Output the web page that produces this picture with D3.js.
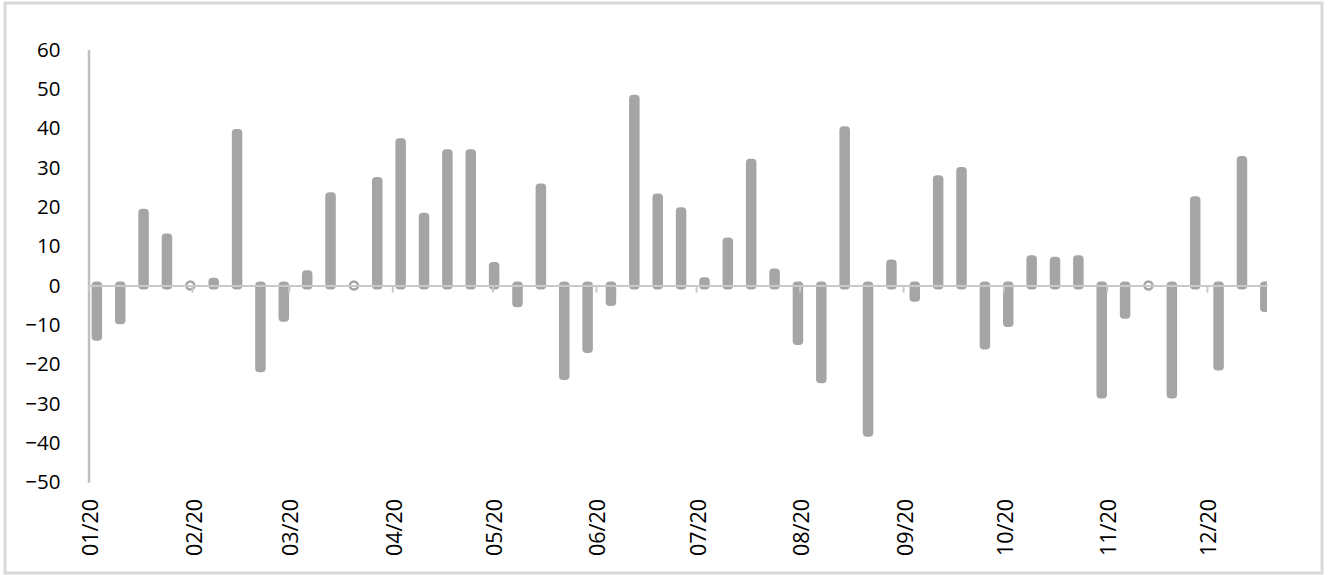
<!DOCTYPE html>
<html>
<head>
<meta charset="utf-8">
<script src="https://cdn.jsdelivr.net/npm/d3@7"></script>
<style>
  body { margin: 0; background: #fff; }
  .axis text { font-family: "Open Sans", sans-serif; fill: #000; }
</style>
</head>
<body>
<div id="chart"></div>
<script>
// weekly observations (Fridays, 2020)
var weeks = [
  "2020-01-03","2020-01-10","2020-01-17","2020-01-24","2020-01-31",
  "2020-02-07","2020-02-14","2020-02-21","2020-02-28",
  "2020-03-06","2020-03-13","2020-03-20","2020-03-27",
  "2020-04-03","2020-04-10","2020-04-17","2020-04-24",
  "2020-05-01","2020-05-08","2020-05-15","2020-05-22","2020-05-29",
  "2020-06-05","2020-06-12","2020-06-19","2020-06-26",
  "2020-07-03","2020-07-10","2020-07-17","2020-07-24","2020-07-31",
  "2020-08-07","2020-08-14","2020-08-21","2020-08-28",
  "2020-09-04","2020-09-11","2020-09-18","2020-09-25",
  "2020-10-02","2020-10-09","2020-10-16","2020-10-23","2020-10-30",
  "2020-11-06","2020-11-13","2020-11-20","2020-11-27",
  "2020-12-04","2020-12-11","2020-12-18"
];

var values = [
  -13.0, -8.8, 18.5, 12.2, 0,
  1.0, 38.8, -21.0, -8.2,
  2.9, 22.7, 0, 26.6,
  36.4, 17.5, 33.6, 33.6,
  5.0, -4.5, 24.9, -23.0, -16.1,
  -4.2, 47.5, 22.4, 18.9,
  1.1, 11.2, 31.2, 3.3, -14.1,
  -23.8, 39.5, -37.4, 5.6,
  -3.1, 27.0, 29.1, -15.2,
  -9.5, 6.7, 6.3, 6.7, -27.7,
  -7.4, 0, -27.7, 21.7,
  -20.6, 31.9, -5.7
];

var yTicks = [-50, -40, -30, -20, -10, 0, 10, 20, 30, 40, 50, 60];

var width = 1330;
var height = 575;

var parseDate = d3.timeParse("%Y-%m-%d");
var data = weeks.map(function(w, i) {
  return { date: parseDate(w), value: values[i] };
});

var svg = d3.select('#chart')
          .append('svg')
          .attr('width', width)
          .attr('height', height);

// chart border
svg.append('rect')
   .attr('x', 5).attr('y', 3)
   .attr('width', 1317).attr('height', 570)
   .attr('fill', 'none')
   .attr('stroke', '#D9D9D9')
   .attr('stroke-width', 3);

var x = d3.scaleTime()
          .domain([new Date(2020, 0, 1), new Date(2020, 11, 19)])
          .range([88.5, 1267]);

var y = d3.scaleLinear().domain([-50, 60]).range([482.3, 49.5]);

svg.append('clipPath').attr('id', 'plotClip')
   .append('rect')
   .attr('x', 88.5).attr('y', 30)
   .attr('width', 1267 - 88.5).attr('height', 470);

// y axis
var yAxis = svg.append('g')
   .attr('class', 'axis axis-y')
   .attr('transform', 'translate(88.5,0)')
   .call(d3.axisLeft(y).tickValues(yTicks).tickSize(0).tickPadding(28));
yAxis.select('.domain').attr('stroke', '#BFBFBF').attr('stroke-width', 2.5);
yAxis.selectAll('text').style('font-size', '20.5px');

// bars
var bars = svg.append('g').attr('clip-path', 'url(#plotClip)');
var barW = 2.5;

function center(d) {
  return x(d3.timeHour.offset(d.date, 12));
}

bars.selectAll('.bar')
    .data(data.filter(function(d) { return d.value !== 0; }))
    .enter()
    .append('rect')
    .attr('class', 'bar')
    .attr('x', function(d) { return center(d) - barW / 2; })
    .attr('y', function(d) { return y(Math.max(0, d.value)); })
    .attr('width', barW)
    .attr('height', function(d) { return Math.abs(y(d.value) - y(0)); })
    .attr('fill', '#A5A5A5')
    .attr('stroke', '#A5A5A5')
    .attr('stroke-width', 8)
    .attr('stroke-linejoin', 'round');

// zero-valued weeks show as a small ring
bars.selectAll('.zero')
    .data(data.filter(function(d) { return d.value === 0; }))
    .enter()
    .append('circle')
    .attr('class', 'zero')
    .attr('cx', center)
    .attr('cy', y(0))
    .attr('r', 4)
    .attr('fill', 'none')
    .attr('stroke', '#A5A5A5')
    .attr('stroke-width', 2.5);

// zero line with month ticks
var zeroAxis = svg.append('g')
   .attr('class', 'axis axis-x')
   .attr('transform', 'translate(0,' + y(0) + ')')
   .call(d3.axisBottom(x).ticks(d3.timeMonth.every(1)).tickSize(7).tickSizeOuter(0).tickFormat(''));
zeroAxis.select('.domain').attr('stroke', '#C9C9C9').attr('stroke-width', 2);
zeroAxis.selectAll('.tick line').attr('stroke', '#C9C9C9').attr('stroke-width', 2);

// month labels at the bottom
var labelAxis = svg.append('g')
   .attr('class', 'axis axis-x')
   .attr('transform', 'translate(0,499)')
   .call(d3.axisBottom(x).ticks(d3.timeMonth.every(1)).tickSize(0).tickFormat(d3.timeFormat('%m/%y')));
labelAxis.select('.domain').remove();
labelAxis.selectAll('text')
   .attr('transform', 'rotate(-90)')
   .attr('x', 0)
   .attr('y', 1.5)
   .attr('dy', '0.35em')
   .style('text-anchor', 'end')
   .style('font-size', '21.5px');
</script>
</body>
</html>
